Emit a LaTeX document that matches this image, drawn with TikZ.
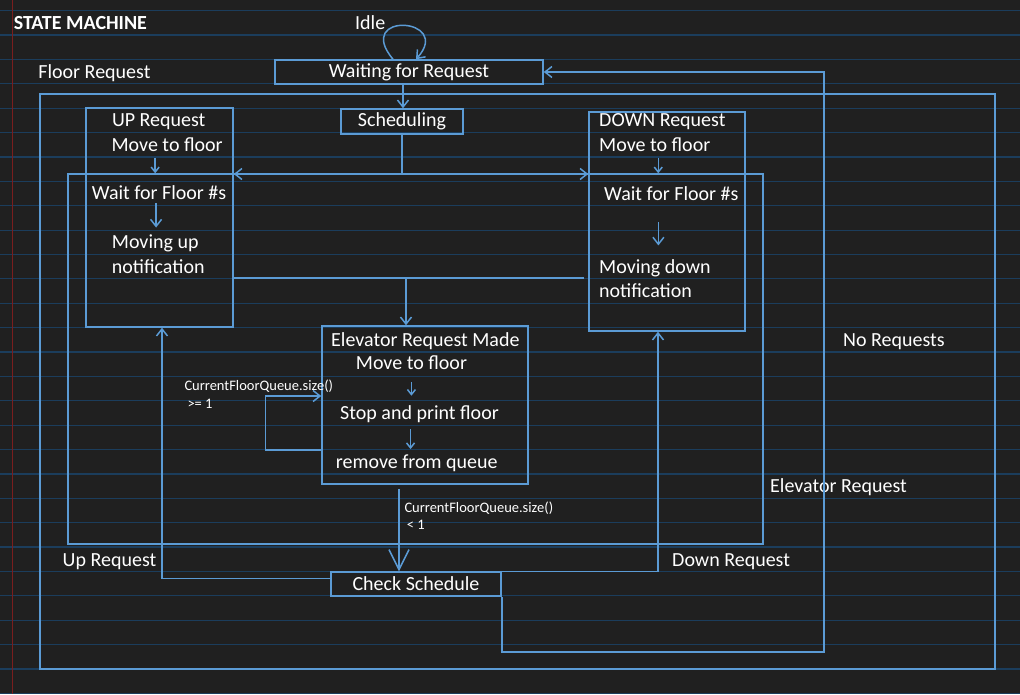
\documentclass[tikz,border=0pt]{standalone}
\usepackage{fontspec}
\setmainfont{Carlito}
\usetikzlibrary{arrows.meta}
\definecolor{fondo}{HTML}{202020}
\definecolor{renglon}{HTML}{1B3D5C}
\definecolor{margen}{HTML}{7A1E1E}
\definecolor{linea}{HTML}{5B9BD5}

\begin{document}
\begin{tikzpicture}[x=1pt, y=-1pt, >={Straight Barb[length=7pt,width=11pt]},
    caja/.style={draw=linea, line width=1.5pt, inner sep=0pt},
    texto/.style={text=white, inner sep=0pt, anchor=base west, font=\fontsize{20}{23}\selectfont},
    nota/.style={texto, font=\fontsize{14.5}{17}\selectfont},
    flecha/.style={linea, line width=1.5pt},
    flechita/.style={flecha, ->, >={Straight Barb[length=5pt,width=8pt]}}]
    \useasboundingbox (0,0) rectangle (1020,694);
    \fill[fondo] (0,0) rectangle (1020,694);

    % Renglones del cuaderno
    \foreach \k in {0,...,28} \draw[renglon, line width=1.2pt] (0,{10.7+24.38*\k}) -- (1020,{10.7+24.38*\k});
    \draw[margen, line width=1pt] (12.5,0) -- (12.5,694);

    % Marcos
    \node[caja, minimum width=955pt, minimum height=575pt] (floorframe) at (517.5,381.5) {};
    \node[caja, minimum width=695pt, minimum height=370pt] (elevframe) at (415.5,359) {};

    % Estados
    \node[caja, texto, anchor=center, minimum width=268pt, minimum height=24pt] (waiting) at (409,72) {Waiting for Request};
    \node[caja, texto, anchor=center, minimum width=122pt, minimum height=25pt] (scheduling) at (402,121.5) {Scheduling};
    \node[caja, texto, anchor=center, minimum width=170pt, minimum height=24pt] (check) at (416,584) {Check Schedule};
    \node[caja, minimum width=147pt, minimum height=219pt] (upbox) at (159.5,217.5) {};
    \node[caja, minimum width=156pt, minimum height=219pt] (downbox) at (667,221.5) {};
    \node[caja, minimum width=206pt, minimum height=158pt] (elevbox) at (425,405) {};

    % Textos
    \node[texto, font=\fontsize{20}{23}\selectfont\bfseries] (title) at (13.6,29) {STATE MACHINE};
    \node[texto] (idle) at (355,29.5) {Idle};
    \node[texto] (floorreq) at (38.2,78) {Floor Request};
    \node[texto] (upreq) at (111.8,126.5) {UP Request};
    \node[texto] (upmove) at (111.4,151.5) {Move to floor};
    \node[texto] (upwait) at (91.7,199.5) {Wait for Floor \#s};
    \node[texto] (upmoving) at (111.7,248.5) {Moving up};
    \node[texto] (upnotif) at (111.7,273) {notification};
    \node[texto] (downreq) at (599,126.5) {DOWN Request};
    \node[texto] (downmove) at (599,151.5) {Move to floor};
    \node[texto] (downwait) at (604,200.5) {Wait for Floor \#s};
    \node[texto] (downmoving) at (599,273.5) {Moving down};
    \node[texto] (downnotif) at (599,297) {notification};
    \node[texto] (elevreq) at (331,346.5) {Elevator Request Made};
    \node[texto] (elevmove) at (355.7,369.5) {Move to floor};
    \node[texto] (elevstop) at (340,419.8) {Stop and print floor};
    \node[texto] (elevremove) at (335.7,468) {remove from queue};
    \node[nota] (sizeloop) at (184.3,390.5) {CurrentFloorQueue.size()};
    \node[nota] (geone) at (187.3,408) {>= 1};
    \node[nota] (sizeexit) at (404.3,512) {CurrentFloorQueue.size()};
    \node[nota] (ltone) at (406.7,529.7) {< 1};
    \node[texto] (noreq) at (843,346.5) {No Requests};
    \node[texto] (elevlbl) at (770,492.5) {Elevator Request};
    \node[texto] (uplbl) at (62.5,566.5) {Up Request};
    \node[texto] (downlbl) at (672,566.5) {Down Request};

    % Transiciones
    \draw[flecha, ->] ([xshift=-16pt]waiting.north) .. controls +(-40,-48) and +(38,-42) .. ([xshift=7pt]waiting.north);
    \draw[flecha, ->] ([xshift=-6pt]waiting.south) -- ([xshift=-6pt]waiting.south |- scheduling.north);
    \coordinate (split) at (402,174);
    \draw[flecha] (scheduling.south) -- (split);
    \draw[flecha, <->] (upbox.east |- split) -- (downbox.west |- split);
    \coordinate (merge) at (406,278);
    \draw[flecha] (upbox.east |- merge) -- ([xshift=-4pt]downbox.west |- merge);
    \draw[flecha, ->] (merge) -- (merge |- elevbox.north);
    \draw[flecha, ->] ([yshift=-45pt]elevbox.west) -- ++(-56,0) |- ([yshift=9pt]elevbox.west);
    \draw[flecha, -{Straight Barb[length=20pt,width=20pt]}] ([xshift=-26pt,yshift=-4pt]elevbox.south) -- ([xshift=-26pt]elevbox.south |- check.north);
    \draw[flecha, ->] ([yshift=5.5pt]check.west) -| ([xshift=2.5pt]upbox.south);
    \draw[flecha, ->] (check.north east) -| ([xshift=-9pt]downbox.south);
    \coordinate (idlecorner) at (824,652);
    \draw[flecha, ->] (check.south east) |- (idlecorner) |- (waiting.east);

    % Flechas dentro de los estados
    \draw[flechita, shorten <=6pt] ([xshift=-12pt]upmove.south) -- ([xshift=-12pt]upmove.south |- elevframe.north);
    \draw[flecha, ->, shorten <=3pt, shorten >=7pt] ([xshift=-3pt]upwait.south) -- ([xshift=-3pt]upwait.south |- upmoving.north);
    \draw[flechita, shorten <=6pt] ([xshift=3.5pt]downmove.south) -- ([xshift=3.5pt]downmove.south |- elevframe.north);
    \draw[flecha, ->, shorten <=21pt, shorten >=14pt] ([xshift=-13pt]downwait.south) -- ([xshift=-13pt]downwait.south |- downmoving.north);
    \draw[flechita, shorten <=12pt, shorten >=10pt] (elevmove.south) -- (elevmove.south |- elevstop.north);
    \draw[flechita, shorten <=6pt, shorten >=5pt] ([xshift=-9pt]elevstop.south) -- ([xshift=-9pt]elevstop.south |- elevremove.north);
\end{tikzpicture}
\end{document}
